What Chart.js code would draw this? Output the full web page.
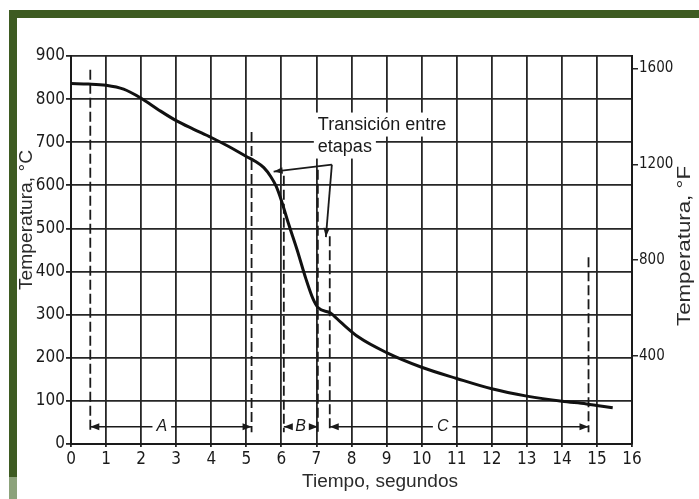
<!DOCTYPE html>
<html>
<head>
<meta charset="utf-8">
<script src="https://cdn.jsdelivr.net/npm/chart.js@4.4.1/dist/chart.umd.min.js"></script>
<style>
  html, body { margin: 0; padding: 0; background: #fff; }
  canvas { display: block; }
</style>
</head>
<body>
<canvas id="coolingChart" width="699" height="499"></canvas>
<script>
// cooling curve
const times  = [0, 0.5, 1, 1.5, 2, 2.5, 3, 3.5, 4, 4.5, 5, 5.25, 5.5, 5.7, 5.85, 6.0, 6.2, 6.45, 6.7, 6.9, 7.05, 7.4, 7.7, 8.2, 9, 10, 11, 12, 13, 14, 14.7, 15.45];
const tempsC = [836, 835, 832, 823, 802, 775, 750, 730, 711, 690, 667, 656, 641, 620, 598, 565, 512, 450, 383, 337, 316, 304, 282, 248, 212, 178, 152, 128, 111, 99, 93, 84];

const xTicks = [0, 1, 2, 3, 4, 5, 6, 7, 8, 9, 10, 11, 12, 13, 14, 15, 16];
const cTicks = [0, 100, 200, 300, 400, 500, 600, 700, 800, 900];
const fTicks = [400, 800, 1200, 1600];

// dashed stage boundaries (time, top temperature)
const edgeTimes = [0.55, 5.15, 6.07, 7.04, 7.38, 14.76];
const edgeTops  = [868, 724, 622, 636, 482, 433];
const edgeBottom = 27;

// stage spans along the bottom
const stageNames = ['A', 'B', 'C'];
const stageStart = [0.55, 6.07, 7.38];
const stageEnd   = [5.15, 7.04, 14.76];
const stageMid   = [2.59, 6.55, 10.6];
const stageLevel = 40;

// "Transición entre etapas" note
const noteLines = ['Transición entre', 'etapas'];
const noteAt = [7.04, 741];
const noteVertex = [7.44, 648];
const noteTips = [[5.78, 632], [7.27, 480]];

const INK = '#1a1a1a';
const GRID = '#262626';
const NARROW = "'Liberation Sans Narrow', 'DejaVu Sans Condensed', 'Arial Narrow', sans-serif";
const SANS = "'Liberation Sans', Arial, sans-serif";

function arrowHead(ctx, x1, y1, x2, y2, len, half) {
    const a = Math.atan2(y2 - y1, x2 - x1);
    const c = Math.cos(a), s = Math.sin(a);
    ctx.beginPath();
    ctx.moveTo(x2, y2);
    ctx.lineTo(x2 - len * c + half * s, y2 - len * s - half * c);
    ctx.lineTo(x2 - len * c - half * s, y2 - len * s + half * c);
    ctx.closePath();
    ctx.fill();
}

function fitText(ctx, text, cx, cy, length, angle) {
    ctx.save();
    ctx.translate(cx, cy);
    ctx.rotate(angle);
    const w = ctx.measureText(text).width;
    ctx.scale(length / w, 1);
    ctx.textAlign = 'center';
    ctx.textBaseline = 'middle';
    ctx.fillText(text, 0, 0);
    ctx.restore();
}

const framePlugin = {
    id: 'frame',
    beforeDraw(chart) {
        const ctx = chart.ctx;
        ctx.save();
        ctx.fillStyle = '#ffffff';
        ctx.fillRect(0, 0, chart.width, chart.height);
        ctx.fillStyle = '#3e5b22';
        ctx.fillRect(9, 10, chart.width - 9, 8);
        ctx.fillRect(9, 10, 8, 467);
        ctx.fillStyle = '#8ca27b';
        ctx.fillRect(9, 477, 8, chart.height - 477);
        ctx.restore();
    }
};

const notesPlugin = {
    id: 'notes',
    afterDatasetsDraw(chart) {
        const ctx = chart.ctx;
        const xs = chart.scales.x, ys = chart.scales.y;
        ctx.save();
        ctx.strokeStyle = INK;
        ctx.fillStyle = INK;

        // stage arrows with labels
        ctx.font = 'italic 16px ' + SANS;
        ctx.textAlign = 'center';
        ctx.textBaseline = 'middle';
        ctx.lineWidth = 1.3;
        stageNames.forEach((name, i) => {
            const x1 = xs.getPixelForValue(stageStart[i]);
            const x2 = xs.getPixelForValue(stageEnd[i]);
            const lx = xs.getPixelForValue(stageMid[i]);
            const y = ys.getPixelForValue(stageLevel);
            const gap = ctx.measureText(name).width / 2 + 4;
            ctx.beginPath();
            ctx.moveTo(x1, y); ctx.lineTo(lx - gap, y);
            ctx.moveTo(lx + gap, y); ctx.lineTo(x2, y);
            ctx.stroke();
            arrowHead(ctx, x1 + 10, y, x1, y, 9, 3.5);
            arrowHead(ctx, x2 - 10, y, x2, y, 9, 3.5);
            ctx.fillText(name, lx, y);
        });

        // note text on a white patch
        ctx.font = '18px ' + SANS;
        ctx.textAlign = 'left';
        const tx = xs.getPixelForValue(noteAt[0]);
        const ty = ys.getPixelForValue(noteAt[1]);
        noteLines.forEach((line, i) => {
            const w = ctx.measureText(line).width;
            const y = ty + i * 22;
            ctx.fillStyle = '#ffffff';
            ctx.fillRect(tx - 4, y - 12, w + 8, 24);
        });
        ctx.fillStyle = INK;
        noteLines.forEach((line, i) => {
            ctx.fillText(line, tx, ty + i * 22);
        });

        // note arrows
        ctx.lineWidth = 1.8;
        const vx = xs.getPixelForValue(noteVertex[0]);
        const vy = ys.getPixelForValue(noteVertex[1]);
        noteTips.forEach(([t, c]) => {
            const px = xs.getPixelForValue(t);
            const py = ys.getPixelForValue(c);
            ctx.beginPath();
            ctx.moveTo(vx, vy);
            ctx.lineTo(px, py);
            ctx.stroke();
            arrowHead(ctx, vx, vy, px, py, 9, 3.2);
        });
        ctx.restore();
    },
    afterDraw(chart) {
        const ctx = chart.ctx;
        const area = chart.chartArea;
        ctx.save();
        ctx.fillStyle = '#2b2b2b';
        ctx.font = '18px ' + SANS;
        fitText(ctx, 'Temperatura, °C', 27, area.top + 164, 140, -Math.PI / 2);
        fitText(ctx, 'Temperatura, °F', 685, area.top + 190, 160, -Math.PI / 2);
        fitText(ctx, 'Tiempo, segundos', 380, 482, 156, 0);
        ctx.restore();
    }
};

const curvePoints = times.map((t, i) => ({ x: t, y: tempsC[i] }));

const edgeSets = edgeTimes.map((t, i) => ({
    data: [{ x: t, y: edgeTops[i] }, { x: t, y: edgeBottom }],
    borderColor: INK,
    borderWidth: 1.8,
    borderDash: [10, 4],
    pointRadius: 0,
    fill: false
}));

new Chart(document.getElementById('coolingChart'), {
    type: 'line',
    data: {
        datasets: [{
            data: curvePoints,
            borderColor: '#111',
            borderWidth: 3,
            pointRadius: 0,
            cubicInterpolationMode: 'monotone',
            fill: false
        }, ...edgeSets]
    },
    options: {
        responsive: false,
        animation: false,
        layout: { padding: { top: 56, left: 0, right: 0, bottom: 0 } },
        plugins: {
            legend: { display: false },
            tooltip: { enabled: false }
        },
        scales: {
            x: {
                type: 'linear',
                min: 0,
                max: 16,
                afterBuildTicks: s => { s.ticks = xTicks.map(v => ({ value: v })); },
                afterFit: s => { s.height = 55; },
                grid: { color: GRID, lineWidth: 1.8, tickLength: 3 },
                border: { color: INK, width: 2 },
                ticks: { font: { family: NARROW, size: 17 }, color: INK, padding: 2, maxRotation: 0, autoSkip: false }
            },
            y: {
                min: 0,
                max: 900,
                afterBuildTicks: s => { s.ticks = cTicks.map(v => ({ value: v })); },
                afterFit: s => { s.width = 71; },
                grid: { color: GRID, lineWidth: 1.8, tickLength: 5 },
                border: { color: INK, width: 2 },
                ticks: { font: { family: NARROW, size: 17 }, color: INK, padding: 1 }
            },
            y1: {
                position: 'right',
                min: 32,
                max: 1652,
                afterBuildTicks: s => { s.ticks = fTicks.map(v => ({ value: v })); },
                afterFit: s => { s.width = 67; },
                grid: { drawOnChartArea: false, color: GRID, lineWidth: 1.5, tickLength: 6 },
                border: { color: INK, width: 2 },
                ticks: { font: { family: NARROW, size: 15 }, color: INK, padding: 1, callback: v => String(v) }
            }
        }
    },
    plugins: [framePlugin, notesPlugin]
});
</script>
</body>
</html>
